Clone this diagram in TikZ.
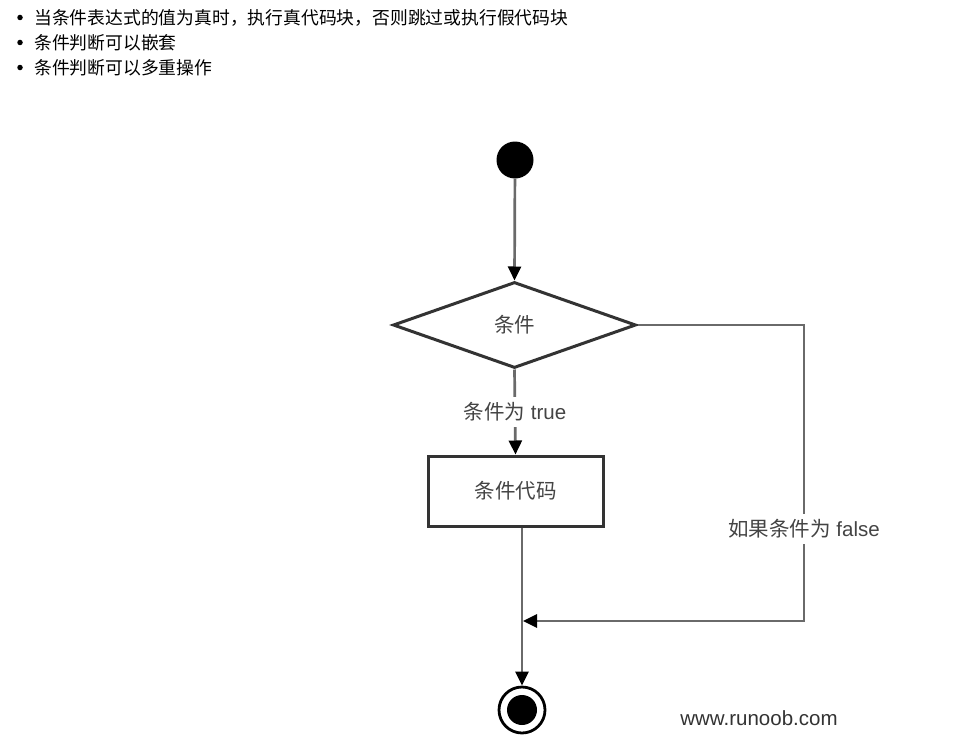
\documentclass[tikz,border=0pt]{standalone}
\usepackage{fontspec}
\setmainfont{Liberation Sans}
\newfontfamily\cjk{Noto Sans CJK SC}
\usetikzlibrary{shapes.geometric,arrows.meta}
\definecolor{linegray}{HTML}{6A6A6A}
\definecolor{boxdark}{HTML}{333333}
\definecolor{txtgray}{HTML}{444444}
\begin{document}
\begin{tikzpicture}[x=1pt,y=-1pt,
  conn/.style={draw=linegray,line width=2.7pt,
    -{Triangle[length=14pt,width=13pt,color=black]}},
  shapeline/.style={draw=boxdark,line width=3pt},
  lbl/.style={font=\fontsize{20.5pt}{23pt}\selectfont,text=txtgray,inner sep=0pt},
  gaplbl/.style={lbl,fill=white,inner xsep=2pt,inner ysep=6pt},
  bullettxt/.style={anchor=west,font=\fontsize{17.8pt}{21pt}\selectfont\cjk,text=black,inner sep=0pt},
  dot/.style={circle,fill=black,minimum size=5.5pt,inner sep=0pt}
]
\useasboundingbox (0,0) rectangle (957,752);
\fill[white] (0,0) rectangle (957,752);

% bullet list
\node[dot] (b1) at (20,17.5) {};
\node[bullettxt] (t1) at (34,17.5) {当条件表达式的值为真时，执行真代码块，否则跳过或执行假代码块};
\node[dot] (b2) at (20,42.5) {};
\node[bullettxt] (t2) at (34,42.5) {条件判断可以嵌套};
\node[dot] (b3) at (20,67.5) {};
\node[bullettxt] (t3) at (34,67.5) {条件判断可以多重操作};

% flowchart nodes
\node[circle,fill=black,minimum size=37pt,inner sep=0pt] (start) at (515,160) {};
\node[diamond,shapeline,minimum width=243pt,minimum height=86pt,inner sep=0pt,lbl] (cond) at (514.5,325) {\cjk 条件};
\node[rectangle,shapeline,minimum width=175pt,minimum height=70pt,lbl] (code) at (515.5,491) {\cjk 条件代码};
\node[circle,draw=black,line width=2.8pt,fill=white,minimum size=46pt,inner sep=0pt] (stop) at (522,710) {};
\node[circle,fill=black,minimum size=30pt,inner sep=0pt] (stopin) at (stop.center) {};

\coordinate (c1) at (804,325);
\coordinate (c2) at (804,621);
\coordinate (merge) at (523,621);

% connectors
\draw[conn] (start) -- (cond.north);
\draw[conn] (cond.south) -- node[gaplbl] (tlabel) {{\cjk 条件为} true} (code.north);
\draw[conn] (code.south -| stop.north) -- (stop.north);
\draw[conn,line join=miter] (cond.east) -- (c1) -- (c2) -- (merge);
\node[gaplbl] (flabel) at (804,529) {{\cjk 如果条件为} false};

% watermark
\node[lbl,text=boxdark] (wm) at (759,718) {www.runoob.com};
\end{tikzpicture}
\end{document}
